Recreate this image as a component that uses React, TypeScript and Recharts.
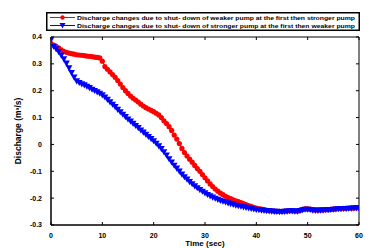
import React from 'react';
import { LineChart, Line, XAxis, YAxis, Legend } from 'recharts';

// discharge (m3/s) sampled every 0.5 s from 0 to 60 s
const WEAKER_FIRST = [
  0.375, 0.37, 0.365, 0.36, 0.352, 0.347, 0.343, 0.34, 0.338, 0.336,
  0.334, 0.333, 0.332, 0.331, 0.329, 0.328, 0.327, 0.325, 0.324, 0.322,
  0.31, 0.29, 0.28, 0.27, 0.26, 0.25, 0.238, 0.225, 0.212, 0.2,
  0.19, 0.18, 0.172, 0.165, 0.158, 0.15, 0.143, 0.137, 0.132, 0.127,
  0.122, 0.116, 0.11, 0.1, 0.088, 0.078, 0.066, 0.052, 0.035, 0.02,
  0.003, -0.015, -0.03, -0.043, -0.055, -0.066, -0.078, -0.09, -0.1, -0.112,
  -0.124, -0.136, -0.147, -0.157, -0.166, -0.174, -0.181, -0.187, -0.193, -0.198,
  -0.202, -0.206, -0.21, -0.213, -0.217, -0.22, -0.224, -0.228, -0.231, -0.234,
  -0.237, -0.239, -0.241, -0.243, -0.245, -0.246, -0.247, -0.248, -0.249, -0.249,
  -0.249, -0.248, -0.248, -0.247, -0.247, -0.248, -0.248, -0.246, -0.242, -0.24,
  -0.24, -0.241, -0.243, -0.244, -0.244, -0.244, -0.244, -0.243, -0.243, -0.242,
  -0.241, -0.24, -0.239, -0.239, -0.238, -0.238, -0.237, -0.237, -0.237, -0.236,
  -0.236,
];

const STRONGER_FIRST = [
  0.39, 0.365, 0.355, 0.345, 0.332, 0.318, 0.302, 0.285, 0.267, 0.25,
  0.236, 0.23, 0.225, 0.221, 0.216, 0.211, 0.205, 0.2, 0.195, 0.19,
  0.184, 0.176, 0.167, 0.158, 0.149, 0.14, 0.13, 0.121, 0.112, 0.103,
  0.094, 0.086, 0.078, 0.07, 0.062, 0.053, 0.045, 0.037, 0.029, 0.021,
  0.013, 0.004, -0.006, -0.016, -0.028, -0.04, -0.054, -0.066, -0.078, -0.089,
  -0.1, -0.111, -0.121, -0.13, -0.139, -0.147, -0.155, -0.162, -0.169, -0.175,
  -0.181, -0.187, -0.192, -0.197, -0.201, -0.205, -0.209, -0.212, -0.215, -0.218,
  -0.221, -0.224, -0.227, -0.229, -0.231, -0.233, -0.235, -0.237, -0.239, -0.241,
  -0.243, -0.244, -0.245, -0.246, -0.247, -0.248, -0.249, -0.25, -0.25, -0.251,
  -0.251, -0.25, -0.249, -0.248, -0.248, -0.249, -0.249, -0.247, -0.244, -0.242,
  -0.242, -0.243, -0.245, -0.246, -0.246, -0.245, -0.245, -0.244, -0.244, -0.243,
  -0.242, -0.241, -0.24, -0.24, -0.239, -0.239, -0.238, -0.238, -0.237, -0.237,
  -0.237,
];

const TIME = WEAKER_FIRST.map((_, i) => i * 0.5);
const X_TICKS = [0, 10, 20, 30, 40, 50, 60];
const Y_TICKS = [-0.3, -0.2, -0.1, 0, 0.1, 0.2, 0.3, 0.4];
const SERIES_NAMES = [
  'Discharge changes due to shut- down of weaker pump at the first then stronger pump',
  'Discharge changes due to shut- down of stronger pump at the first then weaker pump',
];

const data = TIME.map((t, i) => ({ t, weaker: WEAKER_FIRST[i], stronger: STRONGER_FIRST[i] }));

const FONT = '"Liberation Sans", Arial, sans-serif';
const RED = '#ff0000';
const BLUE = '#0000ff';

const CircleDot = (props: any) => {
  const { cx, cy, key } = props;
  if (cx == null || cy == null) return null;
  return <circle key={key} cx={cx} cy={cy} r={2.6} fill={RED} stroke="none" />;
};

const TriDot = (props: any) => {
  const { cx, cy, key } = props;
  if (cx == null || cy == null) return null;
  const s = 3.4;
  return <path key={key} d={`M${cx - s},${cy - s * 0.8}L${cx + s},${cy - s * 0.8}L${cx},${cy + s}Z`} fill={BLUE} />;
};

const fmtY = (v: number) => (v === 0 ? '0' : String(Math.round(v * 10) / 10));

const LegendBox = () => (
  <svg width={314} height={19} style={{ display: 'block' }}>
    <rect x={0.75} y={0.75} width={312.5} height={17.5} fill="#fff" stroke="#000" strokeWidth={1.5} />
    {SERIES_NAMES.map((name, i) => {
      const y = 5.5 + i * 8;
      const color = i === 0 ? RED : BLUE;
      return (
        <g key={name}>
          <line x1={4} x2={29} y1={y} y2={y} stroke={color} strokeWidth={1} />
          {i === 0 ? (
            <circle cx={16.5} cy={y} r={2.2} fill={RED} />
          ) : (
            <path d={`M13.5,${y - 2.4}L19.5,${y - 2.4}L16.5,${y + 3}Z`} fill={BLUE} />
          )}
          <text x={31} y={y + 2.3} fontSize={6} fontWeight="bold" fontFamily={FONT} fill="#000"
            textLength={278} lengthAdjust="spacingAndGlyphs">
            {name}
          </text>
        </g>
      );
    })}
  </svg>
);

const hideLabel = () => null;

export default function App() {
  return (
    <div style={{ position: 'absolute', left: 0, top: 0, width: 389, height: 248, background: '#fff' }}>
      <LineChart width={389} height={248} data={data} margin={{ top: 37, right: 30, bottom: 0, left: 0 }}>
        <XAxis xAxisId="main" dataKey="t" type="number" domain={[0, 60]} ticks={X_TICKS} allowDataOverflow
          tickLine={false} axisLine={{ stroke: '#000', strokeWidth: 1.5 }} height={23} tickMargin={2}
          tick={{ fontSize: 7, fontWeight: 'bold', fontFamily: FONT, fill: '#000' }}
          label={{ value: 'Time (sec)', position: 'insideBottom', offset: 2, fontSize: 8, fontWeight: 'bold', fontFamily: FONT, fill: '#000' }} />
        <XAxis xAxisId="bm" dataKey="t" type="number" domain={[0, 60]} ticks={X_TICKS} allowDataOverflow
          mirror axisLine={false} tickSize={3} tickLine={{ stroke: '#000' }} tick={hideLabel} />
        <XAxis xAxisId="top" dataKey="t" type="number" domain={[0, 60]} ticks={X_TICKS} allowDataOverflow
          orientation="top" mirror axisLine={{ stroke: '#000', strokeWidth: 1 }} tickSize={3} tickLine={{ stroke: '#000' }} tick={hideLabel} />
        <YAxis yAxisId="main" type="number" domain={[-0.3, 0.4]} ticks={Y_TICKS} allowDataOverflow width={51}
          tickLine={false} axisLine={{ stroke: '#000', strokeWidth: 1.5 }} tickMargin={3} tickFormatter={fmtY}
          tick={{ fontSize: 7, fontWeight: 'bold', fontFamily: FONT, fill: '#000' }}
          label={{ value: 'Discharge (m³/s)', angle: -90, position: 'insideLeft', offset: 18, style: { textAnchor: 'middle' }, fontSize: 8.5, fontWeight: 'bold', fontFamily: FONT, fill: '#000' }} />
        <YAxis yAxisId="lm" type="number" domain={[-0.3, 0.4]} ticks={Y_TICKS} allowDataOverflow
          mirror axisLine={false} tickSize={3} tickLine={{ stroke: '#000' }} tick={hideLabel} />
        <YAxis yAxisId="right" type="number" domain={[-0.3, 0.4]} ticks={Y_TICKS} allowDataOverflow
          orientation="right" mirror axisLine={{ stroke: '#000', strokeWidth: 1 }} tickSize={3} tickLine={{ stroke: '#000' }} tick={hideLabel} />
        <Legend layout="vertical" align="center" verticalAlign="middle" content={<LegendBox />}
          wrapperStyle={{ left: 46, top: 12, width: 314, height: 19 }} />
        <Line xAxisId="main" yAxisId="main" dataKey="weaker" name={SERIES_NAMES[0]} stroke={RED} strokeWidth={1}
          dot={CircleDot} activeDot={false} isAnimationActive={false} />
        <Line xAxisId="main" yAxisId="main" dataKey="stronger" name={SERIES_NAMES[1]} stroke={BLUE} strokeWidth={1}
          dot={TriDot} activeDot={false} isAnimationActive={false} />
      </LineChart>
    </div>
  );
}
